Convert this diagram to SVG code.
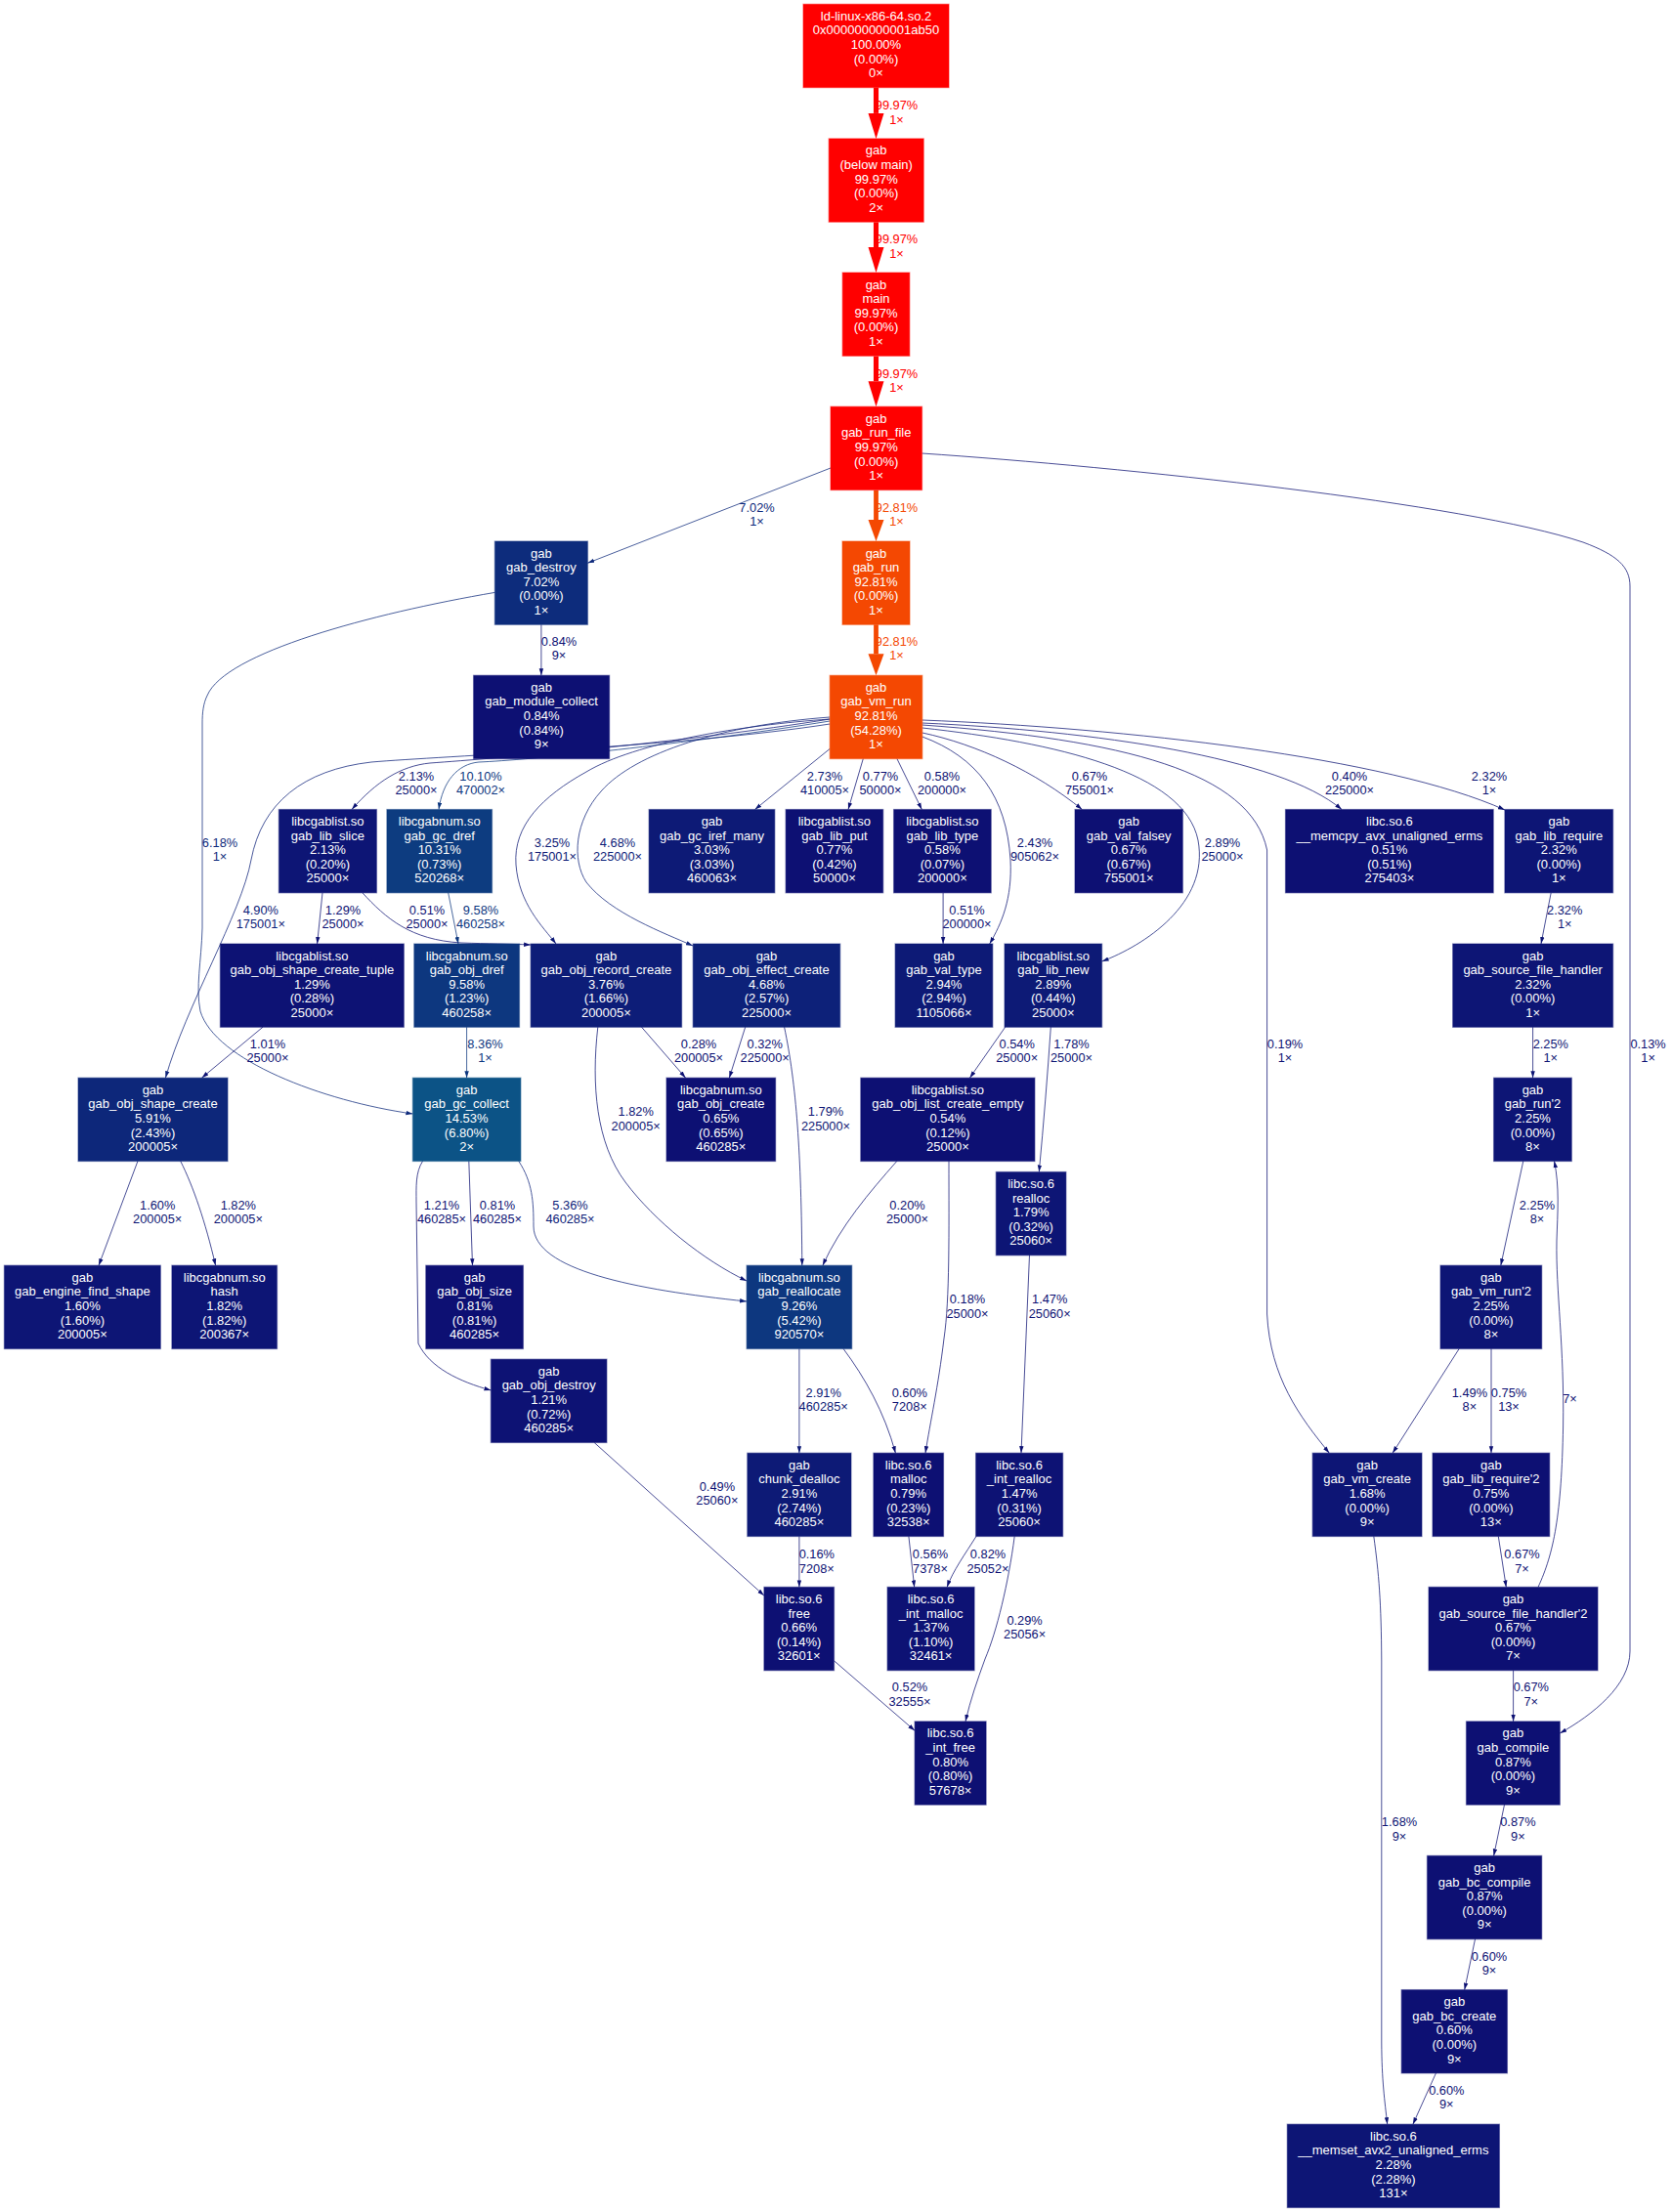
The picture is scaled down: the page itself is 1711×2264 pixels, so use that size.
<svg xmlns="http://www.w3.org/2000/svg" width="1711" height="2264" viewBox="0 0 1711 2264">
<style>
text{font-family:"Liberation Sans",Arial,Helvetica,sans-serif;text-anchor:middle}
.nd text{fill:#ffffff;font-size:13px}
.nd rect{stroke-opacity:.45;stroke-width:1.3}
.fr{fill:#ff0000;stroke:#ff0000}.fo{fill:#f44802;stroke:#f44802}
.f0{fill:#0d1073;stroke:#0d1073}.f1{fill:#0d1274;stroke:#0d1274}.f2{fill:#0d1575;stroke:#0d1575}
.f3{fill:#0d1a76;stroke:#0d1a76}.f4{fill:#0d1d78;stroke:#0d1d78}.f5{fill:#0d2179;stroke:#0d2179}
.f6{fill:#0d277a;stroke:#0d277a}.f7{fill:#0d2c7c;stroke:#0d2c7c}.f9{fill:#0d377f;stroke:#0d377f}
.f10{fill:#0d3c80;stroke:#0d3c80}.f14{fill:#0c5386;stroke:#0c5386}
#edges path{fill:none;stroke-width:0.75}
#edges text{font-size:12.8px}
path.cr{stroke:#ff0000;stroke-width:5.1px !important;marker-end:url(#mr)}
path.co{stroke:#f44802;stroke-width:4.8px !important;marker-end:url(#mo)}
path.c1{stroke:#0d1173;marker-end:url(#m1)}path.c2{stroke:#0d1574;marker-end:url(#m2)}
path.c3{stroke:#0d1a76;marker-end:url(#m3)}path.c5{stroke:#0d2279;marker-end:url(#m5)}
path.c6{stroke:#0d297b;marker-end:url(#m6)}path.c9{stroke:#0d377f;marker-end:url(#m9)}
text.cr{fill:#ff0000}text.co{fill:#f44802}text.c1{fill:#0d1173}text.c2{fill:#0d1574}
text.c3{fill:#0d1a76}text.c5{fill:#0d2279}text.c6{fill:#0d297b}text.c9{fill:#0d377f}
</style>
<defs>
<marker id="mr" markerUnits="userSpaceOnUse" markerWidth="27" markerHeight="17" refX="0" refY="8" orient="auto"><path d="M0,0 L26,8 L0,16 z" fill="#ff0000"/></marker>
<marker id="mo" markerUnits="userSpaceOnUse" markerWidth="23" markerHeight="17" refX="0" refY="8" orient="auto"><path d="M0,0 L22,8 L0,16 z" fill="#f44802"/></marker>
<marker id="m1" markerUnits="userSpaceOnUse" markerWidth="8" markerHeight="6" refX="7" refY="2.5" orient="auto"><path d="M0,0.3 L7,2.5 L0,4.7 z" fill="#0d1173"/></marker>
<marker id="m2" markerUnits="userSpaceOnUse" markerWidth="8" markerHeight="6" refX="7" refY="2.5" orient="auto"><path d="M0,0.3 L7,2.5 L0,4.7 z" fill="#0d1574"/></marker>
<marker id="m3" markerUnits="userSpaceOnUse" markerWidth="8" markerHeight="6" refX="7" refY="2.5" orient="auto"><path d="M0,0.3 L7,2.5 L0,4.7 z" fill="#0d1a76"/></marker>
<marker id="m5" markerUnits="userSpaceOnUse" markerWidth="8" markerHeight="6" refX="7" refY="2.5" orient="auto"><path d="M0,0.3 L7,2.5 L0,4.7 z" fill="#0d2279"/></marker>
<marker id="m6" markerUnits="userSpaceOnUse" markerWidth="8" markerHeight="6" refX="7" refY="2.5" orient="auto"><path d="M0,0.3 L7,2.5 L0,4.7 z" fill="#0d297b"/></marker>
<marker id="m9" markerUnits="userSpaceOnUse" markerWidth="8" markerHeight="6" refX="7" refY="2.5" orient="auto"><path d="M0,0.3 L7,2.5 L0,4.7 z" fill="#0d377f"/></marker>
</defs>
<rect x="0" y="0" width="1711" height="2264" fill="#ffffff"/>
<g id="edges">
<path class="cr" d="M896.5,89.6 L896.5,115.9"/>
<text class="cr" x="917.5" y="112.1"><tspan x="917.5">99.97%</tspan><tspan x="917.5" dy="14.6">1×</tspan></text>
<path class="cr" d="M896.5,227.4 L896.5,253"/>
<text class="cr" x="917.5" y="249.3"><tspan x="917.5">99.97%</tspan><tspan x="917.5" dy="14.6">1×</tspan></text>
<path class="cr" d="M896.5,364.6 L896.5,390.2"/>
<text class="cr" x="917.5" y="386.5"><tspan x="917.5">99.97%</tspan><tspan x="917.5" dy="14.6">1×</tspan></text>
<path class="co" d="M896.5,501.8 L896.5,532"/>
<text class="co" x="917.5" y="523.6"><tspan x="917.5">92.81%</tspan><tspan x="917.5" dy="14.6">1×</tspan></text>
<path class="co" d="M896.5,639.3 L896.5,669.3"/>
<text class="co" x="917.5" y="660.8"><tspan x="917.5">92.81%</tspan><tspan x="917.5" dy="14.6">1×</tspan></text>
<path class="c6" d="M850,479 L601.3,576.3"/>
<text class="c6" x="774.5" y="523.6"><tspan x="774.5">7.02%</tspan><tspan x="774.5" dy="14.6">1×</tspan></text>
<path class="c1" d="M943.5,464 C1150,478 1500,515 1620,555 C1655,568 1668,580 1668,600 L1668,1690 C1668,1725 1630,1755 1596.3,1774"/>
<text class="c1" x="1686.6" y="1072.5"><tspan x="1686.6">0.13%</tspan><tspan x="1686.6" dy="14.6">1×</tspan></text>
<path class="c1" d="M553.9,639.3 L553.9,691.3"/>
<text class="c1" x="572" y="660.8"><tspan x="572">0.84%</tspan><tspan x="572" dy="14.6">9×</tspan></text>
<path class="c6" d="M506.4,606.4 C380,628 230,668 212,712 C208,720 207,730 207,740 L207,950 C206,985 200,1010 205,1035 C220,1085 330,1127 422.4,1140"/>
<text class="c6" x="225" y="866.5"><tspan x="225">6.18%</tspan><tspan x="225" dy="14.6">1×</tspan></text>
<path class="c2" d="M849.2,736 C700,760 510,776 440,781 C410,784 385,800 360,828.5"/>
<text class="c2" x="426" y="798.7"><tspan x="426">2.13%</tspan><tspan x="426" dy="14.6">25000×</tspan></text>
<path class="c9" d="M849.2,738 C700,762 540,778 490,780 C468,782 453,800 449,828.5"/>
<text class="c9" x="492" y="798.7"><tspan x="492">10.10%</tspan><tspan x="492" dy="14.6">470002×</tspan></text>
<path class="c5" d="M849.2,741 C700,764 450,774 380,780 C310,788 268,822 257,880 C247,935 190,1030 169.4,1103.2"/>
<text class="c5" x="266.8" y="935.8"><tspan x="266.8">4.90%</tspan><tspan x="266.8" dy="14.6">175001×</tspan></text>
<path class="c3" d="M849.2,736 C760,742 650,760 600,790 C555,815 525,845 528,885 C531,925 555,948 569,966"/>
<text class="c3" x="565" y="866.5"><tspan x="565">3.25%</tspan><tspan x="565" dy="14.6">175001×</tspan></text>
<path class="c5" d="M849.2,734 C740,742 650,770 615,810 C588,840 585,880 600,903 C625,935 680,955 709,968"/>
<text class="c5" x="632" y="866.5"><tspan x="632">4.68%</tspan><tspan x="632" dy="14.6">225000×</tspan></text>
<path class="c3" d="M849.2,766.4 L772.5,828.5"/>
<text class="c3" x="844" y="798.7"><tspan x="844">2.73%</tspan><tspan x="844" dy="14.6">410005×</tspan></text>
<path class="c1" d="M883.3,776.5 L868,828.5"/>
<text class="c1" x="901" y="798.7"><tspan x="901">0.77%</tspan><tspan x="901" dy="14.6">50000×</tspan></text>
<path class="c1" d="M917.9,776.5 L943.3,828.5"/>
<text class="c1" x="964" y="798.7"><tspan x="964">0.58%</tspan><tspan x="964" dy="14.6">200000×</tspan></text>
<path class="c1" d="M943.8,750 C1000,762 1060,790 1107.3,828.5"/>
<text class="c1" x="1115" y="798.7"><tspan x="1115">0.67%</tspan><tspan x="1115" dy="14.6">755001×</tspan></text>
<path class="c1" d="M943.8,740 C1120,748 1310,775 1373,828.5"/>
<text class="c1" x="1381" y="798.7"><tspan x="1381">0.40%</tspan><tspan x="1381" dy="14.6">225000×</tspan></text>
<path class="c2" d="M943.8,737 C1150,745 1420,775 1540,829"/>
<text class="c2" x="1524" y="798.7"><tspan x="1524">2.32%</tspan><tspan x="1524" dy="14.6">1×</tspan></text>
<path class="c2" d="M943.8,754 C1000,775 1030,815 1034,880 C1036,920 1025,945 1012.7,966"/>
<text class="c2" x="1059" y="866.5"><tspan x="1059">2.43%</tspan><tspan x="1059" dy="14.6">905062×</tspan></text>
<path class="c3" d="M943.8,745 C1080,760 1212,790 1226,860 C1238,925 1170,968 1127.6,984"/>
<text class="c3" x="1251" y="866.5"><tspan x="1251">2.89%</tspan><tspan x="1251" dy="14.6">25000×</tspan></text>
<path class="c1" d="M943.8,742 C1150,757 1280,790 1296.6,870 L1296.6,1345 C1300,1410 1330,1450 1360.3,1487.2"/>
<text class="c1" x="1315" y="1072.5"><tspan x="1315">0.19%</tspan><tspan x="1315" dy="14.6">1×</tspan></text>
<path class="c1" d="M330,913.7 L324.6,966"/>
<text class="c1" x="351" y="935.8"><tspan x="351">1.29%</tspan><tspan x="351" dy="14.6">25000×</tspan></text>
<path class="c1" d="M370.8,913.7 C395,940 420,962 472,965 C500,966 520,966 543.1,967"/>
<text class="c1" x="437" y="935.8"><tspan x="437">0.51%</tspan><tspan x="437" dy="14.6">25000×</tspan></text>
<path class="c9" d="M458.7,913.7 L469,966"/>
<text class="c9" x="492" y="935.8"><tspan x="492">9.58%</tspan><tspan x="492" dy="14.6">460258×</tspan></text>
<path class="c1" d="M965.1,913.7 L965.1,966"/>
<text class="c1" x="989.5" y="935.8"><tspan x="989.5">0.51%</tspan><tspan x="989.5" dy="14.6">200000×</tspan></text>
<path class="c1" d="M269,1051.2 L206.5,1103.2"/>
<text class="c1" x="274" y="1072.5"><tspan x="274">1.01%</tspan><tspan x="274" dy="14.6">25000×</tspan></text>
<path class="c9" d="M477.6,1051.2 L477.6,1103.2"/>
<text class="c9" x="496.5" y="1072.5"><tspan x="496.5">8.36%</tspan><tspan x="496.5" dy="14.6">1×</tspan></text>
<path class="c1" d="M656.5,1051.2 L701.6,1103.2"/>
<text class="c1" x="715" y="1072.5"><tspan x="715">0.28%</tspan><tspan x="715" dy="14.6">200005×</tspan></text>
<path class="c1" d="M762.7,1051.2 L746.3,1103.2"/>
<text class="c1" x="782.7" y="1072.5"><tspan x="782.7">0.32%</tspan><tspan x="782.7" dy="14.6">225000×</tspan></text>
<path class="c2" d="M802.6,1051.2 C815,1110 820,1180 820.8,1295.2"/>
<text class="c2" x="845" y="1142"><tspan x="845">1.79%</tspan><tspan x="845" dy="14.6">225000×</tspan></text>
<path class="c2" d="M611.8,1051.2 C605,1110 610,1170 640,1210 C670,1250 720,1290 764.1,1311"/>
<text class="c2" x="650.7" y="1142"><tspan x="650.7">1.82%</tspan><tspan x="650.7" dy="14.6">200005×</tspan></text>
<path class="c5" d="M530.7,1188.3 C545,1210 546,1230 546,1255 C546,1300 650,1320 764.1,1332"/>
<text class="c5" x="583.5" y="1237.5"><tspan x="583.5">5.36%</tspan><tspan x="583.5" dy="14.6">460285×</tspan></text>
<path class="c1" d="M479.8,1188.3 L483.5,1295.2"/>
<text class="c1" x="509" y="1237.5"><tspan x="509">0.81%</tspan><tspan x="509" dy="14.6">460285×</tspan></text>
<path class="c1" d="M432.6,1188.3 C425,1200 426,1215 426,1230 L428,1375 C440,1400 470,1414 502.4,1423"/>
<text class="c1" x="452" y="1237.5"><tspan x="452">1.21%</tspan><tspan x="452" dy="14.6">460285×</tspan></text>
<path class="c2" d="M141,1188.3 L101,1295.2"/>
<text class="c2" x="161.2" y="1237.5"><tspan x="161.2">1.60%</tspan><tspan x="161.2" dy="14.6">200005×</tspan></text>
<path class="c2" d="M184.7,1188.3 C198,1215 210,1250 220.6,1295.2"/>
<text class="c2" x="243.8" y="1237.5"><tspan x="243.8">1.82%</tspan><tspan x="243.8" dy="14.6">200005×</tspan></text>
<path class="c1" d="M917.9,1188.3 C890,1220 860,1255 841.9,1295.2"/>
<text class="c1" x="928.5" y="1237.5"><tspan x="928.5">0.20%</tspan><tspan x="928.5" dy="14.6">25000×</tspan></text>
<path class="c1" d="M971,1188.3 C971,1260 972,1330 966,1370 C960,1420 952,1455 947,1487.2"/>
<text class="c1" x="990" y="1334"><tspan x="990">0.18%</tspan><tspan x="990" dy="14.6">25000×</tspan></text>
<path class="c1" d="M1028.7,1051.2 L992.4,1103.2"/>
<text class="c1" x="1040.7" y="1072.5"><tspan x="1040.7">0.54%</tspan><tspan x="1040.7" dy="14.6">25000×</tspan></text>
<path class="c2" d="M1075.3,1051.2 C1072,1100 1068,1150 1063.3,1199.5"/>
<text class="c2" x="1096.5" y="1072.5"><tspan x="1096.5">1.78%</tspan><tspan x="1096.5" dy="14.6">25000×</tspan></text>
<path class="c1" d="M1053.5,1284.3 L1045,1487.2"/>
<text class="c1" x="1074.2" y="1334"><tspan x="1074.2">1.47%</tspan><tspan x="1074.2" dy="14.6">25060×</tspan></text>
<path class="c3" d="M817.9,1380.4 L817.9,1487.2"/>
<text class="c3" x="842.7" y="1429.6"><tspan x="842.7">2.91%</tspan><tspan x="842.7" dy="14.6">460285×</tspan></text>
<path class="c1" d="M863,1380.4 C885,1410 905,1445 916.4,1487.2"/>
<text class="c1" x="930.8" y="1429.6"><tspan x="930.8">0.60%</tspan><tspan x="930.8" dy="14.6">7208×</tspan></text>
<path class="c1" d="M608.2,1476.5 L781.9,1633"/>
<text class="c1" x="733.9" y="1525.7"><tspan x="733.9">0.49%</tspan><tspan x="733.9" dy="14.6">25060×</tspan></text>
<path class="c1" d="M817.9,1572.4 L817.9,1624.4"/>
<text class="c1" x="835.8" y="1595"><tspan x="835.8">0.16%</tspan><tspan x="835.8" dy="14.6">7208×</tspan></text>
<path class="c1" d="M929.9,1572.4 L935.7,1624.4"/>
<text class="c1" x="952" y="1595"><tspan x="952">0.56%</tspan><tspan x="952" dy="14.6">7378×</tspan></text>
<path class="c1" d="M999,1572.4 C988,1590 975,1608 969.1,1624.4"/>
<text class="c1" x="1011" y="1595"><tspan x="1011">0.82%</tspan><tspan x="1011" dy="14.6">25052×</tspan></text>
<path class="c1" d="M1038.2,1572.4 C1032,1620 1020,1670 1008,1698 C1000,1720 993,1740 988,1761.9"/>
<text class="c1" x="1048.6" y="1662.5"><tspan x="1048.6">0.29%</tspan><tspan x="1048.6" dy="14.6">25056×</tspan></text>
<path class="c1" d="M853.5,1699.8 L936.1,1771.3"/>
<text class="c1" x="931" y="1731.4"><tspan x="931">0.52%</tspan><tspan x="931" dy="14.6">32555×</tspan></text>
<path class="c2" d="M1587.2,913.7 L1577,966"/>
<text class="c2" x="1601.2" y="935.8"><tspan x="1601.2">2.32%</tspan><tspan x="1601.2" dy="14.6">1×</tspan></text>
<path class="c2" d="M1568.6,1051.2 L1568.6,1103.2"/>
<text class="c2" x="1586.8" y="1072.5"><tspan x="1586.8">2.25%</tspan><tspan x="1586.8" dy="14.6">1×</tspan></text>
<path class="c2" d="M1558.8,1188.3 L1535.8,1295.2"/>
<text class="c2" x="1573" y="1237.5"><tspan x="1573">2.25%</tspan><tspan x="1573" dy="14.6">8×</tspan></text>
<path class="c1" d="M1493.2,1380.4 L1425.1,1487.2"/>
<text class="c1" x="1503.9" y="1429.6"><tspan x="1503.9">1.49%</tspan><tspan x="1503.9" dy="14.6">8×</tspan></text>
<path class="c1" d="M1526,1380.4 L1526,1487.2"/>
<text class="c1" x="1544" y="1429.6"><tspan x="1544">0.75%</tspan><tspan x="1544" dy="14.6">13×</tspan></text>
<path class="c1" d="M1533.3,1572.4 L1541.3,1624.4"/>
<text class="c1" x="1557.5" y="1595"><tspan x="1557.5">0.67%</tspan><tspan x="1557.5" dy="14.6">7×</tspan></text>
<path class="c1" d="M1574,1624.4 C1590,1590 1598,1550 1599.6,1460 C1601,1380 1592,1320 1593,1270 C1594,1240 1596,1215 1590.5,1188.3"/>
<text class="c1" x="1606.5" y="1436.1">7×</text>
<path class="c1" d="M1548.6,1709.6 L1548.6,1761.9"/>
<text class="c1" x="1566.8" y="1731.4"><tspan x="1566.8">0.67%</tspan><tspan x="1566.8" dy="14.6">7×</tspan></text>
<path class="c1" d="M1539.5,1847.1 L1528.6,1899.4"/>
<text class="c1" x="1553.4" y="1869.3"><tspan x="1553.4">0.87%</tspan><tspan x="1553.4" dy="14.6">9×</tspan></text>
<path class="c1" d="M1509.6,1984.3 L1498.7,2036.6"/>
<text class="c1" x="1524" y="2006.8"><tspan x="1524">0.60%</tspan><tspan x="1524" dy="14.6">9×</tspan></text>
<path class="c1" d="M1469.6,2121.5 L1445.9,2174.2"/>
<text class="c1" x="1480.3" y="2143.7"><tspan x="1480.3">0.60%</tspan><tspan x="1480.3" dy="14.6">9×</tspan></text>
<path class="c2" d="M1405.8,1572.4 C1411,1610 1413.5,1640 1413.8,1700 L1413.8,2090 C1414,2130 1417,2150 1419.7,2174.2"/>
<text class="c2" x="1432" y="1869.3"><tspan x="1432">1.68%</tspan><tspan x="1432" dy="14.6">9×</tspan></text>
</g>
<g id="node-ld" class="nd"><rect class="fr" x="822" y="4.3" width="149" height="85.3"/><text x="896.5" y="20.8"><tspan x="896.5">ld-linux-x86-64.so.2</tspan><tspan x="896.5" dy="14.6">0x000000000001ab50</tspan><tspan x="896.5" dy="14.6">100.00%</tspan><tspan x="896.5" dy="14.6">(0.00%)</tspan><tspan x="896.5" dy="14.6">0×</tspan></text></g>
<g id="node-below-main" class="nd"><rect class="fr" x="848.2" y="141.9" width="97" height="85.3"/><text x="896.7" y="158.4"><tspan x="896.7">gab</tspan><tspan x="896.7" dy="14.6">(below main)</tspan><tspan x="896.7" dy="14.6">99.97%</tspan><tspan x="896.7" dy="14.6">(0.00%)</tspan><tspan x="896.7" dy="14.6">2×</tspan></text></g>
<g id="node-main" class="nd"><rect class="fr" x="862.2" y="279" width="68.6" height="85.3"/><text x="896.5" y="295.5"><tspan x="896.5">gab</tspan><tspan x="896.5" dy="14.6">main</tspan><tspan x="896.5" dy="14.6">99.97%</tspan><tspan x="896.5" dy="14.6">(0.00%)</tspan><tspan x="896.5" dy="14.6">1×</tspan></text></g>
<g id="node-run-file" class="nd"><rect class="fr" x="850" y="416.2" width="93.5" height="85.3"/><text x="896.7" y="432.7"><tspan x="896.7">gab</tspan><tspan x="896.7" dy="14.6">gab_run_file</tspan><tspan x="896.7" dy="14.6">99.97%</tspan><tspan x="896.7" dy="14.6">(0.00%)</tspan><tspan x="896.7" dy="14.6">1×</tspan></text></g>
<g id="node-destroy" class="nd"><rect class="f7" x="506.4" y="554" width="95" height="85.3"/><text x="553.9" y="570.5"><tspan x="553.9">gab</tspan><tspan x="553.9" dy="14.6">gab_destroy</tspan><tspan x="553.9" dy="14.6">7.02%</tspan><tspan x="553.9" dy="14.6">(0.00%)</tspan><tspan x="553.9" dy="14.6">1×</tspan></text></g>
<g id="node-run" class="nd"><rect class="fo" x="862" y="554" width="69" height="85.3"/><text x="896.5" y="570.5"><tspan x="896.5">gab</tspan><tspan x="896.5" dy="14.6">gab_run</tspan><tspan x="896.5" dy="14.6">92.81%</tspan><tspan x="896.5" dy="14.6">(0.00%)</tspan><tspan x="896.5" dy="14.6">1×</tspan></text></g>
<g id="node-module-collect" class="nd"><rect class="f0" x="484.6" y="691.3" width="139" height="85.3"/><text x="554.1" y="707.8"><tspan x="554.1">gab</tspan><tspan x="554.1" dy="14.6">gab_module_collect</tspan><tspan x="554.1" dy="14.6">0.84%</tspan><tspan x="554.1" dy="14.6">(0.84%)</tspan><tspan x="554.1" dy="14.6">9×</tspan></text></g>
<g id="node-vm-run" class="nd"><rect class="fo" x="849.2" y="691.3" width="94.6" height="85.3"/><text x="896.5" y="707.8"><tspan x="896.5">gab</tspan><tspan x="896.5" dy="14.6">gab_vm_run</tspan><tspan x="896.5" dy="14.6">92.81%</tspan><tspan x="896.5" dy="14.6">(54.28%)</tspan><tspan x="896.5" dy="14.6">1×</tspan></text></g>
<g id="node-lib-slice" class="nd"><rect class="f2" x="285.4" y="828.5" width="100" height="85.3"/><text x="335.4" y="845"><tspan x="335.4">libcgablist.so</tspan><tspan x="335.4" dy="14.6">gab_lib_slice</tspan><tspan x="335.4" dy="14.6">2.13%</tspan><tspan x="335.4" dy="14.6">(0.20%)</tspan><tspan x="335.4" dy="14.6">25000×</tspan></text></g>
<g id="node-gc-dref" class="nd"><rect class="f10" x="395.9" y="828.5" width="107.6" height="85.3"/><text x="449.7" y="845"><tspan x="449.7">libcgabnum.so</tspan><tspan x="449.7" dy="14.6">gab_gc_dref</tspan><tspan x="449.7" dy="14.6">10.31%</tspan><tspan x="449.7" dy="14.6">(0.73%)</tspan><tspan x="449.7" dy="14.6">520268×</tspan></text></g>
<g id="node-gc-iref-many" class="nd"><rect class="f3" x="664.1" y="828.5" width="128.7" height="85.3"/><text x="728.5" y="845"><tspan x="728.5">gab</tspan><tspan x="728.5" dy="14.6">gab_gc_iref_many</tspan><tspan x="728.5" dy="14.6">3.03%</tspan><tspan x="728.5" dy="14.6">(3.03%)</tspan><tspan x="728.5" dy="14.6">460063×</tspan></text></g>
<g id="node-lib-put" class="nd"><rect class="f0" x="804.1" y="828.5" width="99.6" height="85.3"/><text x="853.9" y="845"><tspan x="853.9">libcgablist.so</tspan><tspan x="853.9" dy="14.6">gab_lib_put</tspan><tspan x="853.9" dy="14.6">0.77%</tspan><tspan x="853.9" dy="14.6">(0.42%)</tspan><tspan x="853.9" dy="14.6">50000×</tspan></text></g>
<g id="node-lib-type" class="nd"><rect class="f0" x="914.6" y="828.5" width="99.6" height="85.3"/><text x="964.4" y="845"><tspan x="964.4">libcgablist.so</tspan><tspan x="964.4" dy="14.6">gab_lib_type</tspan><tspan x="964.4" dy="14.6">0.58%</tspan><tspan x="964.4" dy="14.6">(0.07%)</tspan><tspan x="964.4" dy="14.6">200000×</tspan></text></g>
<g id="node-val-falsey" class="nd"><rect class="f0" x="1100" y="828.5" width="110.3" height="85.3"/><text x="1155.2" y="845"><tspan x="1155.2">gab</tspan><tspan x="1155.2" dy="14.6">gab_val_falsey</tspan><tspan x="1155.2" dy="14.6">0.67%</tspan><tspan x="1155.2" dy="14.6">(0.67%)</tspan><tspan x="1155.2" dy="14.6">755001×</tspan></text></g>
<g id="node-memcpy" class="nd"><rect class="f0" x="1315.5" y="828.5" width="212.7" height="85.3"/><text x="1421.9" y="845"><tspan x="1421.9">libc.so.6</tspan><tspan x="1421.9" dy="14.6">__memcpy_avx_unaligned_erms</tspan><tspan x="1421.9" dy="14.6">0.51%</tspan><tspan x="1421.9" dy="14.6">(0.51%)</tspan><tspan x="1421.9" dy="14.6">275403×</tspan></text></g>
<g id="node-lib-require" class="nd"><rect class="f2" x="1539.9" y="828.5" width="110.7" height="85.3"/><text x="1595.3" y="845"><tspan x="1595.3">gab</tspan><tspan x="1595.3" dy="14.6">gab_lib_require</tspan><tspan x="1595.3" dy="14.6">2.32%</tspan><tspan x="1595.3" dy="14.6">(0.00%)</tspan><tspan x="1595.3" dy="14.6">1×</tspan></text></g>
<g id="node-shape-create-tuple" class="nd"><rect class="f1" x="225.4" y="966" width="187.9" height="85.3"/><text x="319.4" y="982.5"><tspan x="319.4">libcgablist.so</tspan><tspan x="319.4" dy="14.6">gab_obj_shape_create_tuple</tspan><tspan x="319.4" dy="14.6">1.29%</tspan><tspan x="319.4" dy="14.6">(0.28%)</tspan><tspan x="319.4" dy="14.6">25000×</tspan></text></g>
<g id="node-obj-dref" class="nd"><rect class="f9" x="423.8" y="966" width="107.7" height="85.3"/><text x="477.7" y="982.5"><tspan x="477.7">libcgabnum.so</tspan><tspan x="477.7" dy="14.6">gab_obj_dref</tspan><tspan x="477.7" dy="14.6">9.58%</tspan><tspan x="477.7" dy="14.6">(1.23%)</tspan><tspan x="477.7" dy="14.6">460258×</tspan></text></g>
<g id="node-record-create" class="nd"><rect class="f4" x="543.1" y="966" width="154.5" height="85.3"/><text x="620.4" y="982.5"><tspan x="620.4">gab</tspan><tspan x="620.4" dy="14.6">gab_obj_record_create</tspan><tspan x="620.4" dy="14.6">3.76%</tspan><tspan x="620.4" dy="14.6">(1.66%)</tspan><tspan x="620.4" dy="14.6">200005×</tspan></text></g>
<g id="node-effect-create" class="nd"><rect class="f5" x="709.2" y="966" width="150.5" height="85.3"/><text x="784.5" y="982.5"><tspan x="784.5">gab</tspan><tspan x="784.5" dy="14.6">gab_obj_effect_create</tspan><tspan x="784.5" dy="14.6">4.68%</tspan><tspan x="784.5" dy="14.6">(2.57%)</tspan><tspan x="784.5" dy="14.6">225000×</tspan></text></g>
<g id="node-val-type" class="nd"><rect class="f3" x="916.1" y="966" width="99.7" height="85.3"/><text x="966" y="982.5"><tspan x="966">gab</tspan><tspan x="966" dy="14.6">gab_val_type</tspan><tspan x="966" dy="14.6">2.94%</tspan><tspan x="966" dy="14.6">(2.94%)</tspan><tspan x="966" dy="14.6">1105066×</tspan></text></g>
<g id="node-lib-new" class="nd"><rect class="f3" x="1028" y="966" width="99.6" height="85.3"/><text x="1077.8" y="982.5"><tspan x="1077.8">libcgablist.so</tspan><tspan x="1077.8" dy="14.6">gab_lib_new</tspan><tspan x="1077.8" dy="14.6">2.89%</tspan><tspan x="1077.8" dy="14.6">(0.44%)</tspan><tspan x="1077.8" dy="14.6">25000×</tspan></text></g>
<g id="node-source-file-handler" class="nd"><rect class="f2" x="1486.7" y="966" width="163.9" height="85.3"/><text x="1568.6" y="982.5"><tspan x="1568.6">gab</tspan><tspan x="1568.6" dy="14.6">gab_source_file_handler</tspan><tspan x="1568.6" dy="14.6">2.32%</tspan><tspan x="1568.6" dy="14.6">(0.00%)</tspan><tspan x="1568.6" dy="14.6">1×</tspan></text></g>
<g id="node-shape-create" class="nd"><rect class="f6" x="80" y="1103.2" width="153" height="85.3"/><text x="156.5" y="1119.7"><tspan x="156.5">gab</tspan><tspan x="156.5" dy="14.6">gab_obj_shape_create</tspan><tspan x="156.5" dy="14.6">5.91%</tspan><tspan x="156.5" dy="14.6">(2.43%)</tspan><tspan x="156.5" dy="14.6">200005×</tspan></text></g>
<g id="node-gc-collect" class="nd"><rect class="f14" x="422.4" y="1103.2" width="110.5" height="85.3"/><text x="477.6" y="1119.7"><tspan x="477.6">gab</tspan><tspan x="477.6" dy="14.6">gab_gc_collect</tspan><tspan x="477.6" dy="14.6">14.53%</tspan><tspan x="477.6" dy="14.6">(6.80%)</tspan><tspan x="477.6" dy="14.6">2×</tspan></text></g>
<g id="node-obj-create" class="nd"><rect class="f0" x="682" y="1103.2" width="111.6" height="85.3"/><text x="737.8" y="1119.7"><tspan x="737.8">libcgabnum.so</tspan><tspan x="737.8" dy="14.6">gab_obj_create</tspan><tspan x="737.8" dy="14.6">0.65%</tspan><tspan x="737.8" dy="14.6">(0.65%)</tspan><tspan x="737.8" dy="14.6">460285×</tspan></text></g>
<g id="node-list-create-empty" class="nd"><rect class="f0" x="880.8" y="1103.2" width="178.1" height="85.3"/><text x="969.9" y="1119.7"><tspan x="969.9">libcgablist.so</tspan><tspan x="969.9" dy="14.6">gab_obj_list_create_empty</tspan><tspan x="969.9" dy="14.6">0.54%</tspan><tspan x="969.9" dy="14.6">(0.12%)</tspan><tspan x="969.9" dy="14.6">25000×</tspan></text></g>
<g id="node-run2" class="nd"><rect class="f2" x="1528.6" y="1103.2" width="79.7" height="85.3"/><text x="1568.5" y="1119.7"><tspan x="1568.5">gab</tspan><tspan x="1568.5" dy="14.6">gab_run'2</tspan><tspan x="1568.5" dy="14.6">2.25%</tspan><tspan x="1568.5" dy="14.6">(0.00%)</tspan><tspan x="1568.5" dy="14.6">8×</tspan></text></g>
<g id="node-realloc" class="nd"><rect class="f2" x="1019.3" y="1199.5" width="71.6" height="85.3"/><text x="1055.1" y="1216"><tspan x="1055.1">libc.so.6</tspan><tspan x="1055.1" dy="14.6">realloc</tspan><tspan x="1055.1" dy="14.6">1.79%</tspan><tspan x="1055.1" dy="14.6">(0.32%)</tspan><tspan x="1055.1" dy="14.6">25060×</tspan></text></g>
<g id="node-engine-find-shape" class="nd"><rect class="f2" x="4.4" y="1295.2" width="159.9" height="85.3"/><text x="84.4" y="1311.7"><tspan x="84.4">gab</tspan><tspan x="84.4" dy="14.6">gab_engine_find_shape</tspan><tspan x="84.4" dy="14.6">1.60%</tspan><tspan x="84.4" dy="14.6">(1.60%)</tspan><tspan x="84.4" dy="14.6">200005×</tspan></text></g>
<g id="node-hash" class="nd"><rect class="f2" x="175.9" y="1295.2" width="107.6" height="85.3"/><text x="229.7" y="1311.7"><tspan x="229.7">libcgabnum.so</tspan><tspan x="229.7" dy="14.6">hash</tspan><tspan x="229.7" dy="14.6">1.82%</tspan><tspan x="229.7" dy="14.6">(1.82%)</tspan><tspan x="229.7" dy="14.6">200367×</tspan></text></g>
<g id="node-obj-size" class="nd"><rect class="f0" x="435.8" y="1295.2" width="99.6" height="85.3"/><text x="485.6" y="1311.7"><tspan x="485.6">gab</tspan><tspan x="485.6" dy="14.6">gab_obj_size</tspan><tspan x="485.6" dy="14.6">0.81%</tspan><tspan x="485.6" dy="14.6">(0.81%)</tspan><tspan x="485.6" dy="14.6">460285×</tspan></text></g>
<g id="node-reallocate" class="nd"><rect class="f9" x="764.1" y="1295.2" width="107.6" height="85.3"/><text x="817.9" y="1311.7"><tspan x="817.9">libcgabnum.so</tspan><tspan x="817.9" dy="14.6">gab_reallocate</tspan><tspan x="817.9" dy="14.6">9.26%</tspan><tspan x="817.9" dy="14.6">(5.42%)</tspan><tspan x="817.9" dy="14.6">920570×</tspan></text></g>
<g id="node-vm-run2" class="nd"><rect class="f2" x="1474" y="1295.2" width="103.7" height="85.3"/><text x="1525.9" y="1311.7"><tspan x="1525.9">gab</tspan><tspan x="1525.9" dy="14.6">gab_vm_run'2</tspan><tspan x="1525.9" dy="14.6">2.25%</tspan><tspan x="1525.9" dy="14.6">(0.00%)</tspan><tspan x="1525.9" dy="14.6">8×</tspan></text></g>
<g id="node-obj-destroy" class="nd"><rect class="f1" x="502.4" y="1391.2" width="118.5" height="85.3"/><text x="561.7" y="1407.7"><tspan x="561.7">gab</tspan><tspan x="561.7" dy="14.6">gab_obj_destroy</tspan><tspan x="561.7" dy="14.6">1.21%</tspan><tspan x="561.7" dy="14.6">(0.72%)</tspan><tspan x="561.7" dy="14.6">460285×</tspan></text></g>
<g id="node-chunk-dealloc" class="nd"><rect class="f3" x="764.8" y="1487.2" width="106.2" height="85.3"/><text x="817.9" y="1503.7"><tspan x="817.9">gab</tspan><tspan x="817.9" dy="14.6">chunk_dealloc</tspan><tspan x="817.9" dy="14.6">2.91%</tspan><tspan x="817.9" dy="14.6">(2.74%)</tspan><tspan x="817.9" dy="14.6">460285×</tspan></text></g>
<g id="node-malloc" class="nd"><rect class="f0" x="893.9" y="1487.2" width="71.6" height="85.3"/><text x="929.7" y="1503.7"><tspan x="929.7">libc.so.6</tspan><tspan x="929.7" dy="14.6">malloc</tspan><tspan x="929.7" dy="14.6">0.79%</tspan><tspan x="929.7" dy="14.6">(0.23%)</tspan><tspan x="929.7" dy="14.6">32538×</tspan></text></g>
<g id="node-int-realloc" class="nd"><rect class="f1" x="998.6" y="1487.2" width="89" height="85.3"/><text x="1043.1" y="1503.7"><tspan x="1043.1">libc.so.6</tspan><tspan x="1043.1" dy="14.6">_int_realloc</tspan><tspan x="1043.1" dy="14.6">1.47%</tspan><tspan x="1043.1" dy="14.6">(0.31%)</tspan><tspan x="1043.1" dy="14.6">25060×</tspan></text></g>
<g id="node-vm-create" class="nd"><rect class="f2" x="1343.2" y="1487.2" width="111.8" height="85.3"/><text x="1399.1" y="1503.7"><tspan x="1399.1">gab</tspan><tspan x="1399.1" dy="14.6">gab_vm_create</tspan><tspan x="1399.1" dy="14.6">1.68%</tspan><tspan x="1399.1" dy="14.6">(0.00%)</tspan><tspan x="1399.1" dy="14.6">9×</tspan></text></g>
<g id="node-lib-require2" class="nd"><rect class="f0" x="1466" y="1487.2" width="119.7" height="85.3"/><text x="1525.9" y="1503.7"><tspan x="1525.9">gab</tspan><tspan x="1525.9" dy="14.6">gab_lib_require'2</tspan><tspan x="1525.9" dy="14.6">0.75%</tspan><tspan x="1525.9" dy="14.6">(0.00%)</tspan><tspan x="1525.9" dy="14.6">13×</tspan></text></g>
<g id="node-free" class="nd"><rect class="f0" x="781.9" y="1624.4" width="71.6" height="85.3"/><text x="817.7" y="1640.9"><tspan x="817.7">libc.so.6</tspan><tspan x="817.7" dy="14.6">free</tspan><tspan x="817.7" dy="14.6">0.66%</tspan><tspan x="817.7" dy="14.6">(0.14%)</tspan><tspan x="817.7" dy="14.6">32601×</tspan></text></g>
<g id="node-int-malloc" class="nd"><rect class="f1" x="908.1" y="1624.4" width="89" height="85.3"/><text x="952.6" y="1640.9"><tspan x="952.6">libc.so.6</tspan><tspan x="952.6" dy="14.6">_int_malloc</tspan><tspan x="952.6" dy="14.6">1.37%</tspan><tspan x="952.6" dy="14.6">(1.10%)</tspan><tspan x="952.6" dy="14.6">32461×</tspan></text></g>
<g id="node-source-file-handler2" class="nd"><rect class="f0" x="1462" y="1624.4" width="173" height="85.3"/><text x="1548.5" y="1640.9"><tspan x="1548.5">gab</tspan><tspan x="1548.5" dy="14.6">gab_source_file_handler'2</tspan><tspan x="1548.5" dy="14.6">0.67%</tspan><tspan x="1548.5" dy="14.6">(0.00%)</tspan><tspan x="1548.5" dy="14.6">7×</tspan></text></g>
<g id="node-int-free" class="nd"><rect class="f0" x="936.1" y="1761.9" width="73" height="85.3"/><text x="972.6" y="1778.4"><tspan x="972.6">libc.so.6</tspan><tspan x="972.6" dy="14.6">_int_free</tspan><tspan x="972.6" dy="14.6">0.80%</tspan><tspan x="972.6" dy="14.6">(0.80%)</tspan><tspan x="972.6" dy="14.6">57678×</tspan></text></g>
<g id="node-compile" class="nd"><rect class="f0" x="1500.5" y="1761.9" width="95.8" height="85.3"/><text x="1548.4" y="1778.4"><tspan x="1548.4">gab</tspan><tspan x="1548.4" dy="14.6">gab_compile</tspan><tspan x="1548.4" dy="14.6">0.87%</tspan><tspan x="1548.4" dy="14.6">(0.00%)</tspan><tspan x="1548.4" dy="14.6">9×</tspan></text></g>
<g id="node-bc-compile" class="nd"><rect class="f0" x="1460.5" y="1899.4" width="117.2" height="85.3"/><text x="1519.1" y="1915.9"><tspan x="1519.1">gab</tspan><tspan x="1519.1" dy="14.6">gab_bc_compile</tspan><tspan x="1519.1" dy="14.6">0.87%</tspan><tspan x="1519.1" dy="14.6">(0.00%)</tspan><tspan x="1519.1" dy="14.6">9×</tspan></text></g>
<g id="node-bc-create" class="nd"><rect class="f0" x="1434.2" y="2036.6" width="108.2" height="85.3"/><text x="1488.3" y="2053.1"><tspan x="1488.3">gab</tspan><tspan x="1488.3" dy="14.6">gab_bc_create</tspan><tspan x="1488.3" dy="14.6">0.60%</tspan><tspan x="1488.3" dy="14.6">(0.00%)</tspan><tspan x="1488.3" dy="14.6">9×</tspan></text></g>
<g id="node-memset" class="nd"><rect class="f2" x="1317.3" y="2174.2" width="217.1" height="85.3"/><text x="1425.9" y="2190.7"><tspan x="1425.9">libc.so.6</tspan><tspan x="1425.9" dy="14.6">__memset_avx2_unaligned_erms</tspan><tspan x="1425.9" dy="14.6">2.28%</tspan><tspan x="1425.9" dy="14.6">(2.28%)</tspan><tspan x="1425.9" dy="14.6">131×</tspan></text></g>
</svg>
